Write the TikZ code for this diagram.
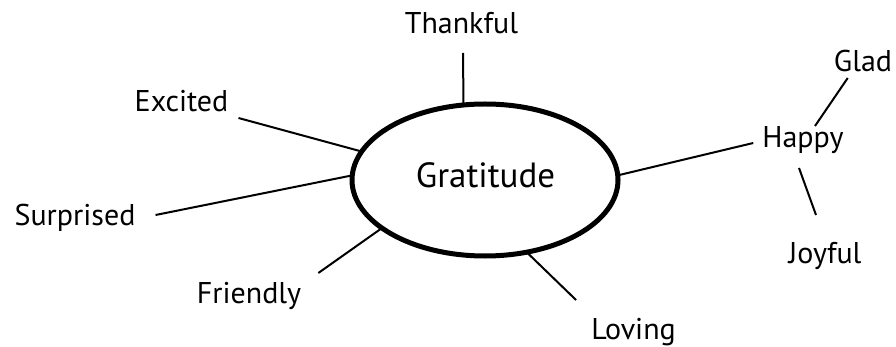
\documentclass[tikz,border=0pt]{standalone}
\usepackage{fontspec}
\setmainfont{PT Sans}
\usetikzlibrary{shapes.geometric}
\begin{document}
\begin{tikzpicture}[x=1pt,y=-1pt,
  lbl/.style={inner sep=0pt,anchor=base,font=\fontsize{30}{36}\selectfont},
  con/.style={line width=2pt},
  hub/.style={ellipse,draw,line width=5pt,minimum width=266pt,minimum height=152pt,inner sep=0pt,outer sep=0pt}]
\useasboundingbox (0,0) rectangle (896,347);
\node[hub] (g) at (485,180) {};
\node[lbl,font=\fontsize{35}{40}\selectfont] (gt) at (485.5,188) {Gratitude};
\node[lbl] (th) at (461.5,34) {Thankful};
\node[lbl] (ex) at (181.5,112) {Excited};
\node[lbl] (su) at (75,226) {Surprised};
\node[lbl] (fr) at (249,303) {Friendly};
\node[lbl] (lo) at (633.5,339) {Loving};
\node[lbl] (ha) at (803,148) {Happy};
\node[lbl] (gl) at (863,72) {Glad};
\node[lbl] (jo) at (825,263) {Joyful};
\draw[con] ([shift={(1.5,19)}]th.base) -- (g.106);
\draw[con] ([shift={(10,6)}]ex.base east) -- (g.167);
\draw[con] ([shift={(20,-11)}]su.base east) -- (g.178);
\draw[con] ([shift={(17,-30)}]fr.base east) -- (g.205);
\draw[con] ([shift={(-15,-39)}]lo.base west) -- (g.-60);
\draw[con] ([shift={(-9,-5)}]ha.base west) -- (g.2.5);
\draw[con] ([shift={(12,-22)}]ha.base) -- ([shift={(14,6)}]gl.base west);
\draw[con] ([shift={(-4,20)}]ha.base) -- ([shift={(-9,-48)}]jo.base);
\end{tikzpicture}
\end{document}
